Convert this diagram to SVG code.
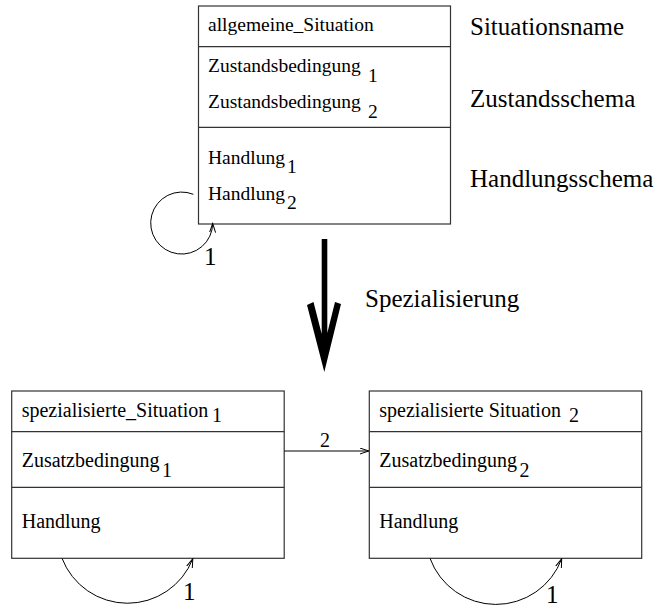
<svg xmlns="http://www.w3.org/2000/svg" width="662" height="607" viewBox="0 0 662 607">
<style>
.box{fill:#fff;stroke:#333;stroke-width:1.2}
.div{stroke:#333;stroke-width:1.2}
.con{fill:none;stroke:#000;stroke-width:1}
text{fill:#000}
</style>
<defs>
<marker id="ah" markerWidth="10" markerHeight="8" refX="9" refY="3.5" orient="auto" markerUnits="userSpaceOnUse">
<path d="M0,0.5 L9,3.5 L0,6.5" fill="none" stroke="#000" stroke-width="1"/>
</marker>
</defs>
<g id="allgemeine_Situation" font-family="Liberation Serif, DejaVu Serif, serif" font-size="19.5">
<rect class="box" x="198.5" y="6" width="252" height="218"/>
<line class="div" x1="198.5" y1="46.7" x2="450.5" y2="46.7"/>
<line class="div" x1="198.5" y1="127.3" x2="450.5" y2="127.3"/>
<text x="208" y="31">allgemeine_Situation</text>
<text x="208" y="71.5">Zustandsbedingung</text>
<text x="368" y="82">1</text>
<text x="208" y="107.5">Zustandsbedingung</text>
<text x="368" y="117.5">2</text>
<text x="208" y="163.5">Handlung</text>
<text x="287" y="172.5">1</text>
<text x="208" y="199.5">Handlung</text>
<text x="287" y="208.5">2</text>
</g>
<g id="legend" font-family="Liberation Serif, DejaVu Serif, serif" font-size="25">
<text x="470" y="35">Situationsname</text>
<text x="470" y="107">Zustandsschema</text>
<text x="470" y="187">Handlungsschema</text>
</g>
<g id="spezialisierte_Situation_1" font-family="Liberation Serif, DejaVu Serif, serif" font-size="20">
<rect class="box" x="11.7" y="391" width="272.5" height="167.3"/>
<line class="div" x1="11.7" y1="431.7" x2="284.2" y2="431.7"/>
<line class="div" x1="11.7" y1="487.3" x2="284.2" y2="487.3"/>
<text x="21.7" y="416.7">spezialisierte_Situation</text>
<text x="212" y="422">1</text>
<text x="21.7" y="467">Zusatzbedingung</text>
<text x="162" y="477">1</text>
<text x="21.7" y="527.5">Handlung</text>
</g>
<g id="spezialisierte_Situation_2" font-family="Liberation Serif, DejaVu Serif, serif" font-size="20">
<rect class="box" x="369.3" y="391" width="272.4" height="167.3"/>
<line class="div" x1="369.3" y1="431.7" x2="641.7" y2="431.7"/>
<line class="div" x1="369.3" y1="487.3" x2="641.7" y2="487.3"/>
<text x="379.3" y="416.7">spezialisierte Situation</text>
<text x="569" y="422">2</text>
<text x="379.3" y="467">Zusatzbedingung</text>
<text x="519.5" y="477">2</text>
<text x="379.3" y="527.5">Handlung</text>
</g>
<g id="connectors" font-family="Liberation Serif, DejaVu Serif, serif" font-size="25">
<path class="con" d="M193.3,194.3 A31,31 0 1 0 212.7,223.5" marker-end="url(#ah)"/>
<text x="204" y="265">1</text>
<path d="M321.7,239 L327.3,239 L327.3,333 L335,302 L341,304 L324.3,372 L307,305 L313.5,302 L321.7,334 Z" fill="#000"/>
<text x="365" y="307">Spezialisierung</text>
<line class="con" x1="284.2" y1="451" x2="368.8" y2="451" marker-end="url(#ah)"/>
<text x="320" y="446.7" font-size="20">2</text>
<path class="con" d="M62,558.3 A70.2,70.2 0 0 0 192.8,558.8" marker-end="url(#ah)"/>
<text x="183" y="600">1</text>
<path class="con" d="M430,558.3 A70.2,70.2 0 0 0 561.7,558.8" marker-end="url(#ah)"/>
<text x="546" y="603">1</text>
</g>
</svg>
